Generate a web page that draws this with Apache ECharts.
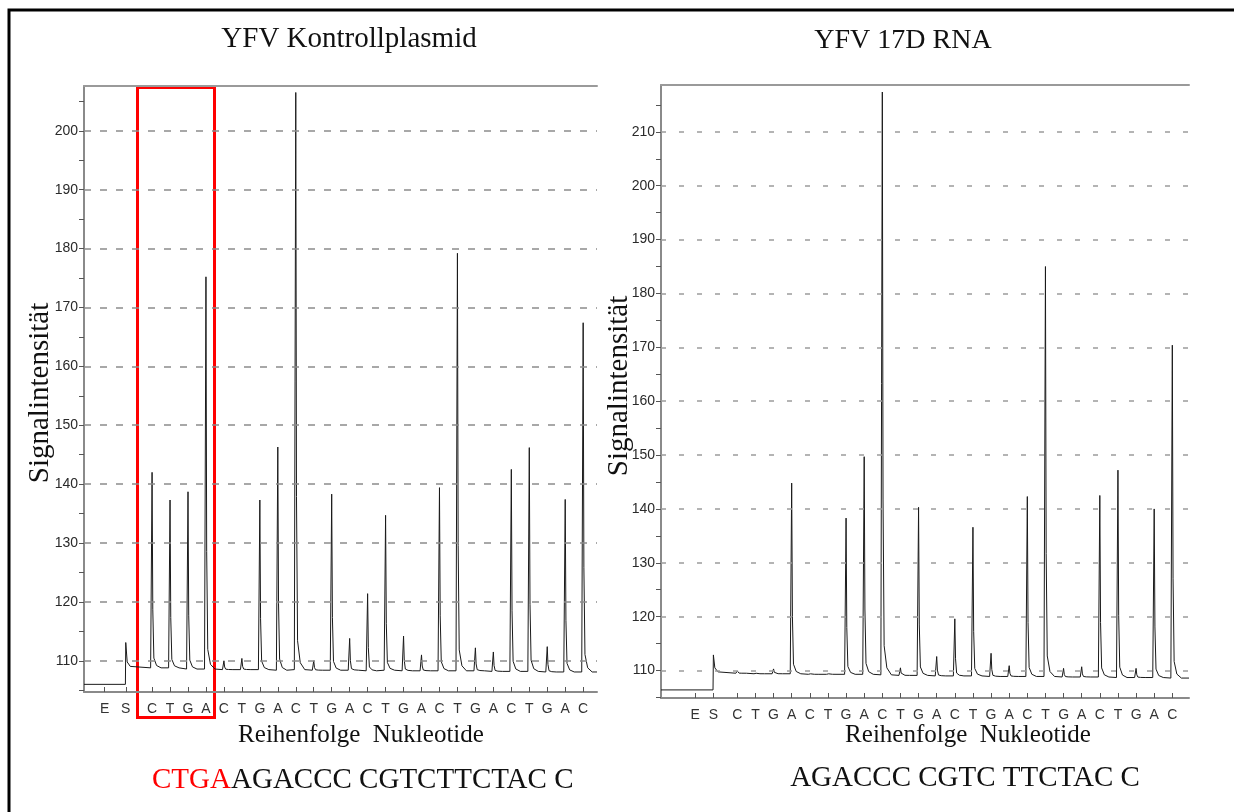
<!DOCTYPE html>
<html>
<head>
<meta charset="utf-8">
<title>Pyrogramm YFV</title>
<script src="https://cdn.jsdelivr.net/npm/echarts@6/dist/echarts.min.js"></script>
<style>
  html, body { margin: 0; padding: 0; background: #fff; }
  #chart { width: 1234px; height: 812px; }
</style>
</head>
<body>
<div id="chart"></div>
<script>
// dispensation order (E, S, then the cycles)
const dispensation = ['E', 'S',
  'C', 'T', 'G', 'A', 'C', 'T', 'G', 'A', 'C', 'T', 'G', 'A', 'C', 'T', 'G', 'A',
  'C', 'T', 'G', 'A', 'C', 'T', 'G', 'A', 'C'];

// peak heights per dispensation (C, T, G, A, ...)
const plasmidPeaks = [142.0, 137.3, 138.7, 175.2, 110.0, 110.4, 137.3, 146.3, 206.5, 110.0,
  138.3, 113.8, 121.4, 134.7, 114.2, 111.0, 139.4, 179.2, 112.2, 111.5,
  142.5, 146.2, 112.4, 137.4, 167.4];
const plasmidBase = [108.8, 108.8, 108.6, 108.6, 108.5, 108.5, 108.5, 108.4, 108.5, 108.4,
  108.4, 108.4, 108.3, 108.4, 108.3, 108.3, 108.3, 108.3, 108.3, 108.2,
  108.2, 108.2, 108.1, 108.1, 108.1];
const plasmidStart = [106.0, 113.1];   // level before S, spike at S

const rnaPeaks = [109.9, 109.7, 110.3, 144.8, 109.6, 109.6, 138.3, 149.7, 217.4, 110.5,
  140.3, 112.6, 119.6, 136.6, 113.2, 110.9, 142.3, 185.0, 110.4, 110.7,
  142.5, 147.2, 110.4, 140.0, 170.4];
const rnaBase = [109.5, 109.4, 109.4, 109.4, 109.3, 109.3, 109.3, 109.3, 109.2, 109.1,
  109.1, 109.0, 109.0, 109.0, 108.9, 108.9, 108.9, 108.9, 108.8, 108.8,
  108.8, 108.7, 108.7, 108.7, 108.6];
const rnaStart = [106.4, 112.9];

const plasmidTicks = [105, 110, 115, 120, 125, 130, 135, 140, 145, 150, 155, 160, 165, 170, 175, 180, 185, 190, 195, 200, 205];
const plasmidLabels = [110, 120, 130, 140, 150, 160, 170, 180, 190, 200];
const rnaTicks = [105, 110, 115, 120, 125, 130, 135, 140, 145, 150, 155, 160, 165, 170, 175, 180, 185, 190, 195, 200, 205, 210, 215];
const rnaLabels = [110, 120, 130, 140, 150, 160, 170, 180, 190, 200, 210];

const chart = echarts.init(document.getElementById('chart'));

// x positions of E and S relative to the first C (=0), per instrument run
function positions(ePos, sPos) {
  const p = [ePos, sPos];
  for (let i = 0; i < dispensation.length - 2; i++) p.push(i);
  return p;
}
const plasmidPos = positions(-2.635, -1.465);
const rnaPos = positions(-2.33, -1.32);

function trace(peaks, base, start, pos, xMin, xMax) {
  const s = pos[1];
  const pts = [[xMin, start[0]], [s - 0.02, start[0]], [s, start[1]],
    [s + 0.08, base[0] + 1.0], [s + 0.25, base[0] + 0.25]];
  peaks.forEach((h, k) => {
    const b = base[k];
    const d = h - b;
    pts.push([k - 0.08, b], [k, h], [k + 0.04, b + 0.3 * d], [k + 0.1, b + 0.05 * d],
      [k + 0.25, b + 0.012 * d], [k + 0.5, b]);
  });
  pts.push([xMax, base[base.length - 1]]);
  return pts;
}

function labelOf(pos) {
  return v => {
    let best = 0;
    pos.forEach((p, i) => { if (Math.abs(p - v) < Math.abs(pos[best] - v)) best = i; });
    return dispensation[best];
  };
}

const axisGray = '#8a8a8a';
const serif = '"Liberation Serif", "Times New Roman", serif';

function xAxes(grid, min, max, pos) {
  return [{
    type: 'value', gridIndex: grid, min: min, max: max,
    axisLine: { onZero: false, lineStyle: { color: axisGray, width: 2 } },
    axisTick: { show: true, inside: true, length: 5, customValues: pos, lineStyle: { color: '#555' } },
    axisLabel: { customValues: pos, formatter: labelOf(pos), color: '#333', fontSize: 14,
      fontFamily: 'Liberation Sans, Arial', margin: 10 },
    splitLine: { show: false }
  }, {
    type: 'value', gridIndex: grid, position: 'top', min: min, max: max,
    axisLine: { onZero: false, lineStyle: { color: '#9a9a9a', width: 2 } },
    axisTick: { show: false }, axisLabel: { show: false }, splitLine: { show: false }
  }];
}

function yAxis(grid, min, max, ticks, labels) {
  return {
    type: 'value', gridIndex: grid, min: min, max: max,
    axisLine: { show: true, onZero: false, lineStyle: { color: axisGray, width: 2 } },
    axisTick: { show: true, length: 5, customValues: ticks, lineStyle: { color: '#555' } },
    axisLabel: { customValues: labels, color: '#2a2a2a', fontSize: 14,
      fontFamily: 'Liberation Sans, Arial', margin: 6 },
    splitLine: { show: false }
  };
}

function series(idx, data, labels, dash, color) {
  return {
    type: 'line', xAxisIndex: idx * 2, yAxisIndex: idx, data: data,
    showSymbol: false, symbol: 'none', animation: false,
    lineStyle: { color: '#1a1a1a', width: 1 },
    markLine: {
      silent: true, symbol: ['none', 'none'], label: { show: false }, animation: false,
      lineStyle: { color: color, type: dash, width: 1.5 },
      data: labels.map(v => ({ yAxis: v }))
    }
  };
}

const txt = (text, x, y, size, extra) => Object.assign({
  type: 'text', x: x, y: y,
  style: { text: text, font: size + 'px ' + serif, fill: '#111', align: 'center', verticalAlign: 'middle' }
}, extra || {});

const option = {
  animation: false,
  grid: [
    { left: 84, top: 86, width: 513, height: 606 },
    { left: 661, top: 85, width: 528, height: 613 }
  ],
  xAxis: [].concat(xAxes(0, -3.79, 24.77, plasmidPos), xAxes(1, -4.21, 24.92, rnaPos)),
  yAxis: [
    yAxis(0, 104.7, 207.6, plasmidTicks, plasmidLabels),
    yAxis(1, 104.9, 218.7, rnaTicks, rnaLabels)
  ],
  series: [
    series(0, trace(plasmidPeaks, plasmidBase, plasmidStart, plasmidPos, -3.79, 24.77), plasmidLabels, [7, 9], '#8c8c8c'),
    series(1, trace(rnaPeaks, rnaBase, rnaStart, rnaPos, -4.21, 24.92), rnaLabels, [5, 13], '#9c9c9c')
  ],
  graphic: [
    { type: 'rect', shape: { x: 9, y: 10, width: 1240, height: 820 }, style: { fill: 'none', stroke: '#000', lineWidth: 3 } },
    txt('YFV Kontrollplasmid', 349, 39, 29),
    txt('YFV 17D RNA', 903, 41, 28),
    txt('Signalintensität', 40, 393, 29, { rotation: Math.PI / 2 }),
    txt('Signalintensität', 619, 386, 29, { rotation: Math.PI / 2 }),
    txt('Reihenfolge  Nukleotide', 361, 735, 25),
    txt('Reihenfolge  Nukleotide', 968, 735, 25),
    { type: 'text', x: 152, y: 780, style: { text: 'CTGA', font: '29px ' + serif, fill: '#ff0000', align: 'left', verticalAlign: 'middle' } },
    { type: 'text', x: 231, y: 780, style: { text: 'AGACCC CGTCTTCTAC C', font: '29px ' + serif, fill: '#111', align: 'left', verticalAlign: 'middle' } },
    txt('AGACCC CGTC TTCTAC C', 965, 778, 29),
    { type: 'rect', shape: { x: 137.5, y: 87.5, width: 77, height: 630 }, style: { fill: 'none', stroke: '#ff0000', lineWidth: 3 } }
  ]
};

chart.setOption(option);
</script>
</body>
</html>
